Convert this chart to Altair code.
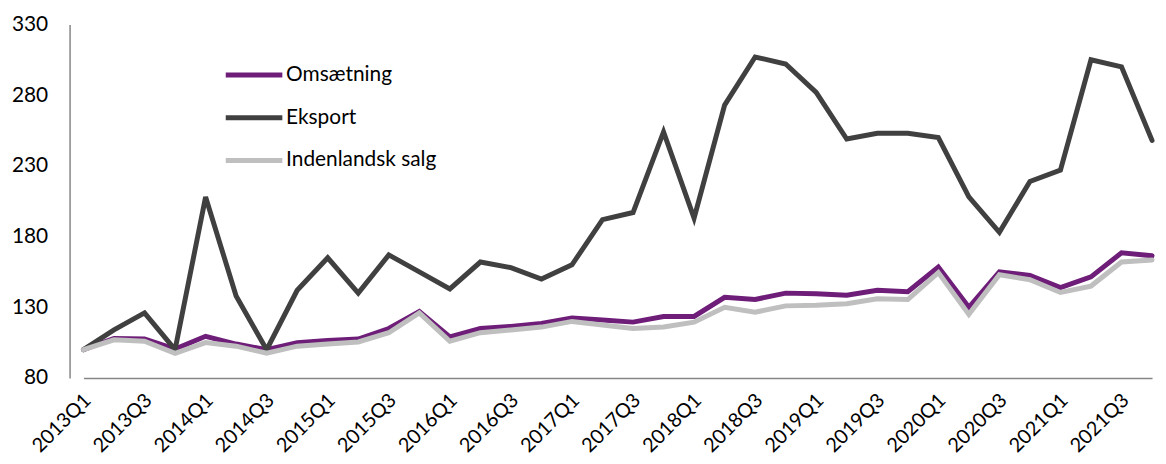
import altair as alt
import pandas as pd

quarters = ["2013Q1", "2013Q2", "2013Q3", "2013Q4",
            "2014Q1", "2014Q2", "2014Q3", "2014Q4",
            "2015Q1", "2015Q2", "2015Q3", "2015Q4",
            "2016Q1", "2016Q2", "2016Q3", "2016Q4",
            "2017Q1", "2017Q2", "2017Q3", "2017Q4",
            "2018Q1", "2018Q2", "2018Q3", "2018Q4",
            "2019Q1", "2019Q2", "2019Q3", "2019Q4",
            "2020Q1", "2020Q2", "2020Q3", "2020Q4",
            "2021Q1", "2021Q2", "2021Q3", "2021Q4"]

omsaetning = [100, 108, 107.5, 100.5, 109.5, 104, 100, 105, 106.5, 107.5, 115, 127,
              109, 115, 116.5, 118.5, 122.5, 121, 119.5, 123.5, 123.5, 137, 135.5, 140,
              139.5, 138.5, 142, 141, 158.5, 130, 155, 152.5, 144, 151.5, 168.5, 166.5]

eksport = [100, 114, 126, 100, 208, 138, 100, 142, 165, 140, 167, 155,
           143, 162, 158, 150, 160, 192, 197, 254, 193, 273, 307, 302,
           282, 249, 253, 253, 250, 208, 183, 219, 227, 305, 300, 248]

indenlandsk = [100, 107, 106, 97.5, 105, 102.5, 97.5, 102.5, 104, 105.5, 112, 126,
               106, 112, 114, 116, 120, 117.5, 115, 116, 119.5, 130, 126.5, 131,
               131.5, 132.5, 136, 135.5, 154.5, 125, 153, 149.5, 140.5, 145, 162, 163.5]

series_names = ["Omsætning", "Eksport", "Indenlandsk salg"]
series_colors = ["#6E1E78", "#404040", "#BFBFBF"]
y_ticks = [80, 130, 180, 230, 280, 330]
x_label_values = [q for q in quarters if q.endswith("Q1") or q.endswith("Q3")]

rows = []
for name, vals in zip(series_names, [omsaetning, eksport, indenlandsk]):
    for q, v in zip(quarters, vals):
        rows.append({"Kvartal": q, "Serie": name, "Værdi": v})
df = pd.DataFrame(rows)

FONT = "Lato"
AXIS_GREY = "#868686"

x_enc = alt.X("Kvartal:O", sort=quarters,
              scale=alt.Scale(range=[14, 1090], padding=0),
              axis=alt.Axis(title=None, values=x_label_values, labelAngle=-45,
                            labelAlign="right", labelBaseline="middle",
                            labelPadding=19, labelOffset=4, ticks=False, domain=True,
                            domainColor=AXIS_GREY, domainWidth=1.5,
                            labelFont=FONT, labelFontSize=20, labelColor="#000000"))
y_enc = alt.Y("Værdi:Q",
              scale=alt.Scale(domain=[80, 330], nice=False, zero=False),
              axis=alt.Axis(title=None, values=y_ticks, ticks=False, grid=False, domain=True,
                            domainColor=AXIS_GREY, domainWidth=1.5, labelPadding=22,
                            labelFont=FONT, labelFontSize=21, labelColor="#000000"))
color_enc = alt.Color("Serie:N",
                      scale=alt.Scale(domain=series_names, range=series_colors),
                      legend=alt.Legend(title=None, orient="none", legendX=183, legendY=34,
                                        symbolType="M-3,0H1", symbolSize=812,
                                        symbolStrokeWidth=5, labelOffset=1,
                                        rowPadding=16, labelFont=FONT, labelFontSize=21,
                                        labelColor="#000000"))

base = alt.Chart(df).mark_line(strokeWidth=5, strokeCap="round", strokeJoin="miter").encode(
    x=x_enc, y=y_enc, color=color_enc)

layers = [base.transform_filter(alt.datum.Serie == s) for s in series_names]

chart = alt.layer(*layers).properties(
    width=1096, height=356,
    autosize=alt.AutoSizeParams(type="none"),
    padding={"left": 62, "top": 15, "right": 0, "bottom": 77},
).configure_view(stroke=None).configure_axis(grid=False)

chart.save("out.html", embed_options={"renderer": "svg", "actions": False})
